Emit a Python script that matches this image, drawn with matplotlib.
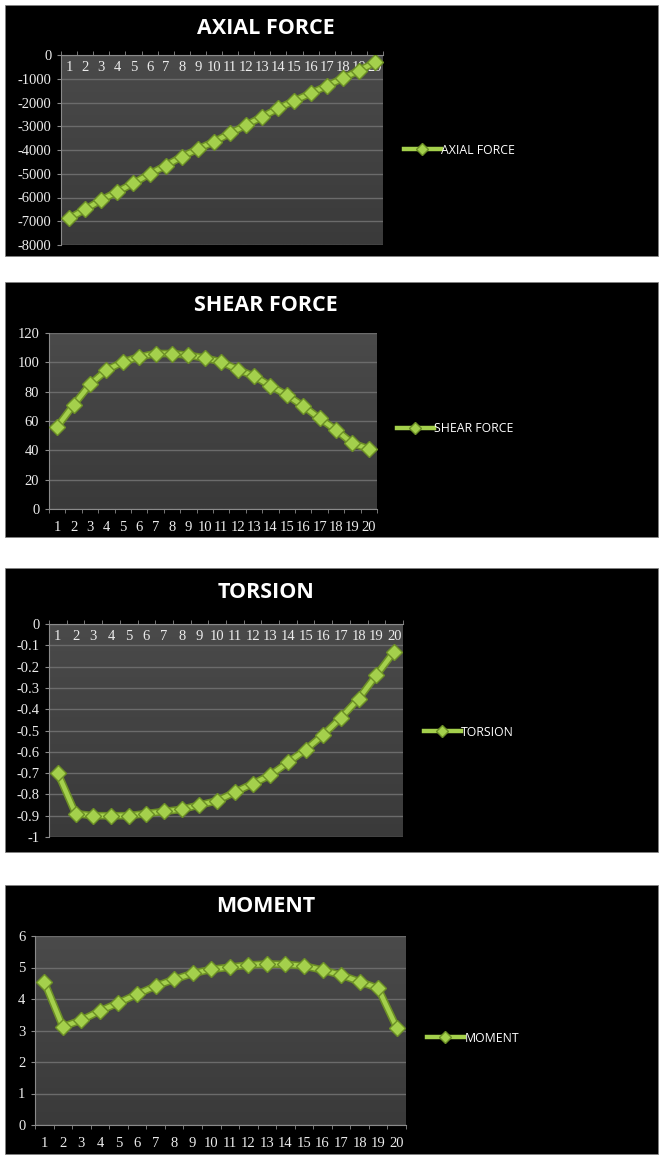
import matplotlib.pyplot as plt
import numpy as np
from matplotlib.lines import Line2D
from matplotlib.patches import Rectangle
from matplotlib.colors import LinearSegmentedColormap

W, H = 659, 1155

members = np.arange(1, 21)

axial_force = [-6880, -6500, -6105, -5755, -5400, -5010, -4660, -4280, -3960, -3650,
               -3300, -2950, -2600, -2245, -1925, -1615, -1305, -980, -660, -310]
shear_force = [56.1, 70.9, 84.9, 94.6, 100.3, 103.7, 106.0, 106.0, 104.8, 103.0,
               100.3, 95.1, 90.6, 84.0, 77.7, 70.2, 61.8, 53.9, 44.8, 41.0]
torsion = [-0.70, -0.89, -0.90, -0.90, -0.90, -0.89, -0.88, -0.87, -0.85, -0.83,
           -0.79, -0.75, -0.71, -0.65, -0.59, -0.52, -0.44, -0.35, -0.24, -0.13]
moment = [4.55, 3.12, 3.33, 3.62, 3.88, 4.15, 4.41, 4.62, 4.81, 4.94,
          5.01, 5.08, 5.11, 5.10, 5.05, 4.92, 4.76, 4.55, 4.34, 3.09]

axial_ticks = np.arange(-8000, 1, 1000)
shear_ticks = np.arange(0, 121, 20)
torsion_ticks = np.round(np.arange(-1.0, 0.01, 0.1), 1)
moment_ticks = np.arange(0, 7, 1)

GREEN = '#a4d04c'
GREEN_DK = '#6c8f26'
GRID = '#6b6b6b'
TXT = '#ececec'
AXC = '#8a8a8a'
NUMFONT = 'Liberation Serif'
NUMSIZE = 10.5

fig = plt.figure(figsize=(W / 100, H / 100), dpi=100, facecolor='white')
pa_cmap = LinearSegmentedColormap.from_list('pa', ['#4a4a4a', '#3a3a3a'])


def box(x0, y0, x1, y1):
    # pixel box (top-left origin) -> figure fraction rect
    return [x0 / W, 1 - y1 / H, (x1 - x0) / W, (y1 - y0) / H]


def label(t):
    if abs(t) < 1e-9:
        return '0'
    if float(t).is_integer():
        return '%d' % t
    return '%.1f' % t


def chart(panel, plot, title, title_y, leg_xy, y, ticks, axis_top):
    bg = fig.add_axes(box(*panel))
    bg.set_xlim(0, 1)
    bg.set_ylim(0, 1)
    bg.add_patch(Rectangle((0, 0), 1, 1, facecolor='black', edgecolor='#9a9a9a', lw=1.2))
    bg.axis('off')
    fig.text(266 / W, 1 - title_y / H, title, ha='center', va='center', color='white',
             fontsize=15.5, fontweight='bold', family='Open Sans')

    ax = fig.add_axes(box(*plot))
    grad = np.linspace(0, 1, 64).reshape(-1, 1)
    ax.imshow(grad, extent=[0.5, 20.5, ticks[0], ticks[-1]], aspect='auto',
              cmap=pa_cmap, origin='upper', zorder=0)
    ax.set_xlim(0.5, 20.5)
    ax.set_ylim(ticks[0], ticks[-1])
    ax.set_yticks(ticks)
    ax.set_yticklabels([label(t) for t in ticks])
    for t in ticks:
        ax.axhline(t, color=GRID, lw=1, zorder=1)

    ax.plot(members, y, color=GREEN_DK, lw=5.5, zorder=3, solid_capstyle='round')
    ax.plot(members, y, color=GREEN, lw=3.2, zorder=4, marker='D', ms=8.5,
            mfc=GREEN, mec=GREEN_DK, mew=1)

    ax.set_xticks(members)
    ax.set_xticklabels([str(m) for m in members])
    ax.set_xticks(np.arange(0.5, 21, 1), minor=True)
    for s in ax.spines.values():
        s.set_visible(False)
    ax.spines['left'].set_visible(True)
    ax.spines['left'].set_color(AXC)
    ax.tick_params(axis='y', colors=AXC, labelcolor=TXT, length=3, pad=4,
                   labelsize=NUMSIZE, labelfontfamily=NUMFONT)
    if axis_top:
        ax.spines['top'].set_visible(True)
        ax.spines['top'].set_color(AXC)
        ax.tick_params(axis='x', which='major', bottom=False, labelbottom=False, top=False,
                       labeltop=True, pad=-17, labelsize=NUMSIZE, labelcolor=TXT,
                       labelfontfamily=NUMFONT)
        ax.tick_params(axis='x', which='minor', bottom=False, top=True, length=3,
                       color=AXC)
    else:
        ax.spines['bottom'].set_visible(True)
        ax.spines['bottom'].set_color(AXC)
        ax.tick_params(axis='x', which='major', bottom=False, labelsize=NUMSIZE,
                       labelcolor=TXT, pad=5, labelfontfamily=NUMFONT)
        ax.tick_params(axis='x', which='minor', bottom=True, length=3, color=AXC)

    handle = [Line2D([], [], color=GREEN, lw=3.2, marker='D', ms=6.5, mfc=GREEN,
                     mec=GREEN_DK)]
    fig.legend(handle, [title], loc='center left',
               bbox_to_anchor=(leg_xy[0] / W, 1 - leg_xy[1] / H), frameon=False,
               labelcolor='white', handlelength=3.0, handletextpad=0.05, numpoints=1,
               prop={'family': 'Open Sans', 'size': 8.8}, borderaxespad=0, borderpad=0)
    return ax


chart((5, 5, 659, 257), (61, 55, 383, 245), 'AXIAL FORCE', 28, (404, 150),
      axial_force, axial_ticks, True)
chart((5, 282, 659, 538), (49, 333, 377, 509), 'SHEAR FORCE', 305, (397, 429),
      shear_force, shear_ticks, False)
chart((5, 568, 659, 853), (49, 624, 403, 837), 'TORSION', 593, (424, 732),
      torsion, torsion_ticks, True)
chart((5, 885, 659, 1155), (35, 936, 406, 1125), 'MOMENT', 907, (427, 1038),
      moment, moment_ticks, False)

fig.savefig('out.png', dpi=100, facecolor='white')
